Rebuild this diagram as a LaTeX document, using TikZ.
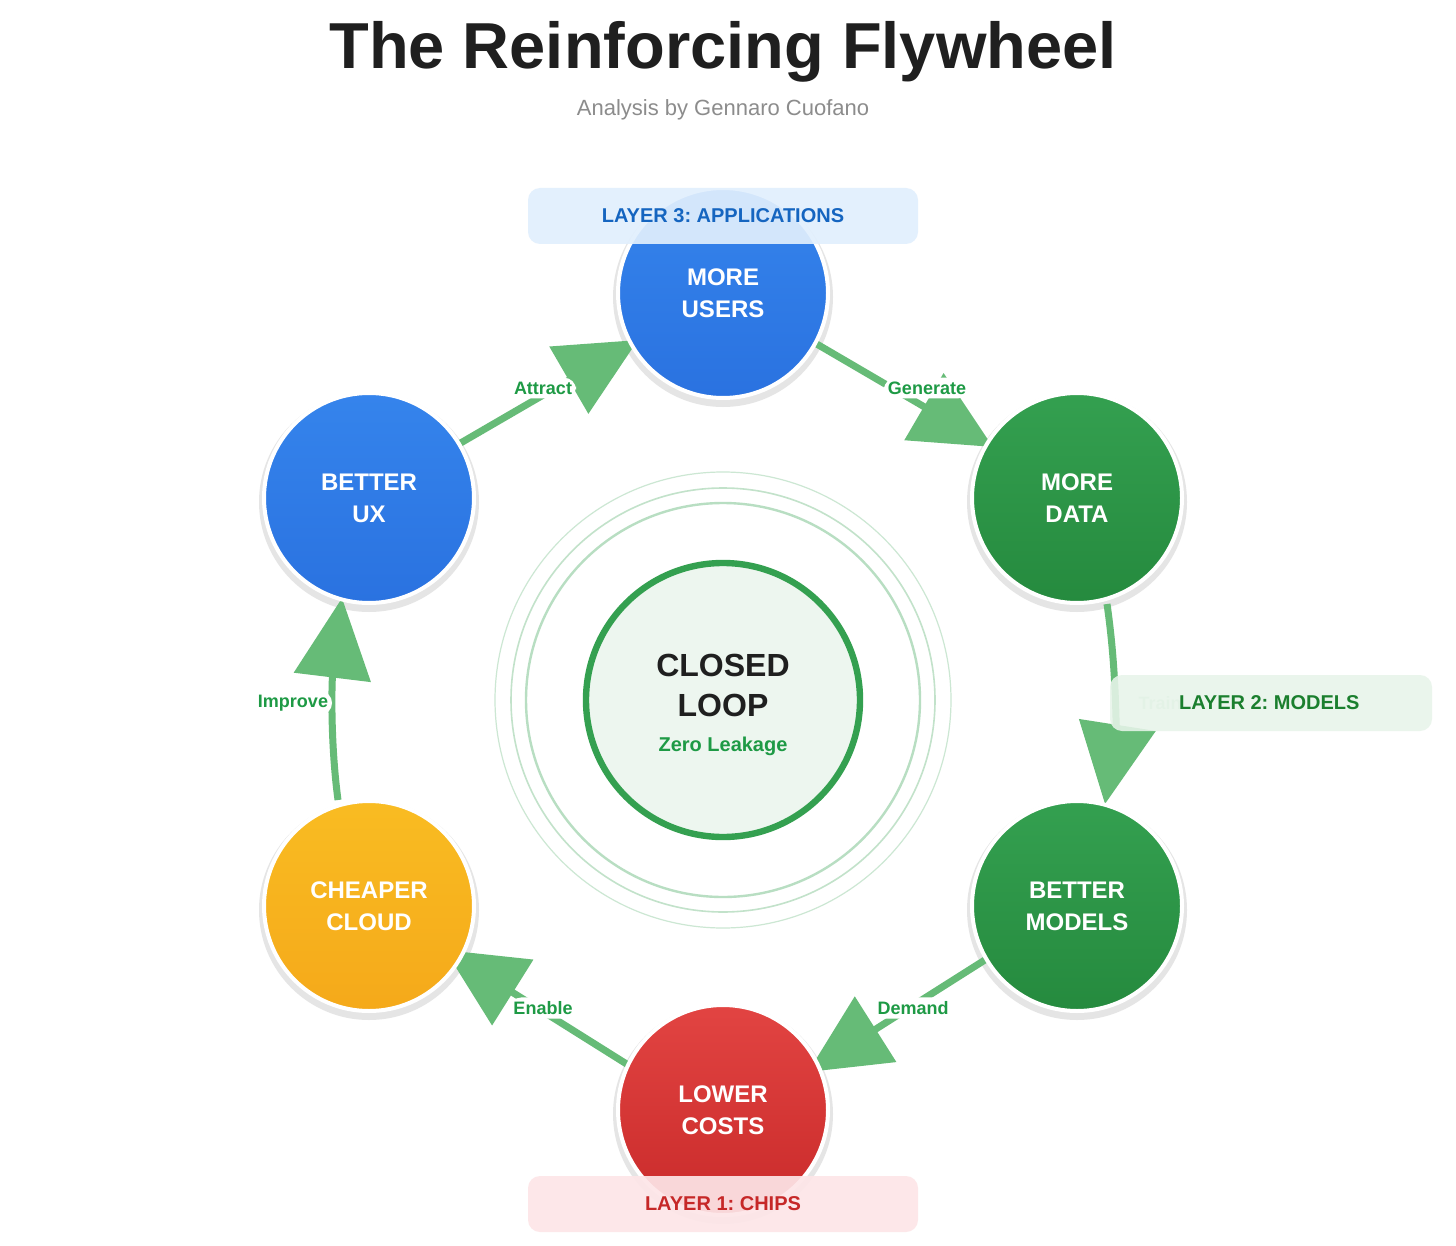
\documentclass[tikz,border=0pt]{standalone}
\usepackage{fontspec}
\setmainfont{Liberation Sans}
\usetikzlibrary{arrows.meta}
\definecolor{ablue}{HTML}{3584EC}
\definecolor{ablue2}{HTML}{2A72E0}
\definecolor{agreen}{HTML}{34A050}
\definecolor{agreen2}{HTML}{258A3E}
\definecolor{ared}{HTML}{E24442}
\definecolor{ared2}{HTML}{C92A2A}
\definecolor{ayel}{HTML}{F9BC22}
\definecolor{ayel2}{HTML}{F5A91A}
\definecolor{arrowg}{HTML}{66BB77}
\definecolor{lblg}{HTML}{1E9A45}
\definecolor{l3fill}{HTML}{E1EFFD}
\definecolor{l1fill}{HTML}{FDE6E8}
\definecolor{l2fill}{HTML}{E8F4EA}
\frenchspacing
\begin{document}
\begin{tikzpicture}[x=0.5pt,y=-0.5pt,
  hub/.style={circle,minimum size=105pt,inner sep=0pt,draw=white,line width=2pt,
    text=white,font=\bfseries\fontsize{12}{16}\selectfont,align=center},
  shadow/.style={fill=black!10,draw=none,circle,minimum size=110pt},
  flow/.style={draw=arrowg,line width=3.5pt,-{Triangle[length=40pt,width=38pt]}},
  lbl/.style={fill=white,rounded corners=6pt,text=lblg,font=\bfseries\fontsize{9}{10}\selectfont,inner sep=2pt},
  layer/.style={rounded corners=6pt,minimum width=195pt,minimum height=28pt,font=\bfseries\fontsize{10}{12}\selectfont}]
\useasboundingbox (0,0) rectangle (1456,1246);
\fill[white] (0,0) rectangle (1456,1246);
\node[font=\bfseries\fontsize{32.5}{38}\selectfont,text=black!88] (title) at (723,52) {The Reinforcing Flywheel};
\node[font=\fontsize{11}{13}\selectfont,text=black!45] (sub) at (723,110) {Analysis by Gennaro Cuofano};
% rings
\draw[agreen!25,line width=0.6pt] (723,700) circle (228);
\draw[agreen!30,line width=0.8pt] (723,700) circle (212);
\draw[agreen!35,line width=1.2pt] (723,700) circle (197);
% coords
\coordinate (pu) at (723,293); \coordinate (pd) at (1077,498); \coordinate (pm) at (1077,906);
\coordinate (pc) at (723,1110); \coordinate (pl) at (369,906); \coordinate (px) at (369,498);
% shadows
\foreach \p in {pu,pd,pm,pc,pl,px} \node[shadow] at ([yshift=-2pt]\p) {};
% arrows
\coordinate (a1s) at (815,343); \coordinate (a1e) at (993,447);
\coordinate (a2s) at (1107,604); \coordinate (a2e) at (1105,804);
\coordinate (a3s) at (988,958); \coordinate (a3e) at (808,1072);
\coordinate (a4s) at (633,1068); \coordinate (a4e) at (445,950);
\coordinate (a5s) at (338,800); \coordinate (a5e) at (342,598);
\coordinate (a6s) at (452,448); \coordinate (a6e) at (638,340);
\draw[flow] (a1s) -- (a1e);
\draw[flow] (a2s) .. controls (1118,680) and (1115,740) .. (a2e);
\draw[flow] (a3s) -- (a3e);
\draw[flow] (a4s) -- (a4e);
\draw[flow] (a5s) .. controls (330,740) and (332,680) .. (a5e);
\draw[flow] (a6s) -- (a6e);
\node[lbl] (l1) at (927,388) {Generate};
\node[lbl,text=lblg!25] (l2) at (1160,703) {Train};
\node[lbl] (l3) at (913,1008) {Demand};
\node[lbl] (l4) at (543,1008) {Enable};
\node[lbl] (l5) at (293,703) {Improve};
\node[lbl] (l6) at (543,388) {Attract};
% hubs
\node[hub,top color=ablue,bottom color=ablue2] (users) at (pu) {MORE\\USERS};
\node[hub,top color=agreen,bottom color=agreen2] (data) at (pd) {MORE\\DATA};
\node[hub,top color=agreen,bottom color=agreen2] (models) at (pm) {BETTER\\MODELS};
\node[hub,top color=ared,bottom color=ared2] (costs) at (pc) {LOWER\\COSTS};
\node[hub,top color=ayel,bottom color=ayel2] (cloud) at (pl) {CHEAPER\\CLOUD};
\node[hub,top color=ablue,bottom color=ablue2] (ux) at (px) {BETTER\\UX};
% center
\node[circle,minimum size=137pt,fill=agreen!9,draw=agreen,line width=3.2pt,inner sep=0pt] (center) at (723,700) {};
\node[font=\bfseries\fontsize{16}{20}\selectfont,align=center,text=black!88] (cl) at (723,685) {CLOSED\\LOOP};
\node[font=\bfseries\fontsize{10}{12}\selectfont,text=lblg] (zl) at (723,746) {Zero Leakage};
% layers
\node[layer,fill=l3fill,fill opacity=0.92,text opacity=1,text={rgb,255:red,21;green,101;blue,192}] (L3) at (723,216) {LAYER 3: APPLICATIONS};
\node[layer,fill=l1fill,fill opacity=0.92,text opacity=1,text={rgb,255:red,198;green,40;blue,40}] (L1) at (723,1204) {LAYER 1: CHIPS};
\node[layer,minimum width=161pt,fill=l2fill,fill opacity=0.88,text opacity=1] (L2) at (1271,703) {};
\node[font=\bfseries\fontsize{10}{12}\selectfont,text={rgb,255:red,27;green,127;blue,46},anchor=west] (L2t) at (1172,703) {LAYER 2: MODELS};
\end{tikzpicture}
\end{document}
